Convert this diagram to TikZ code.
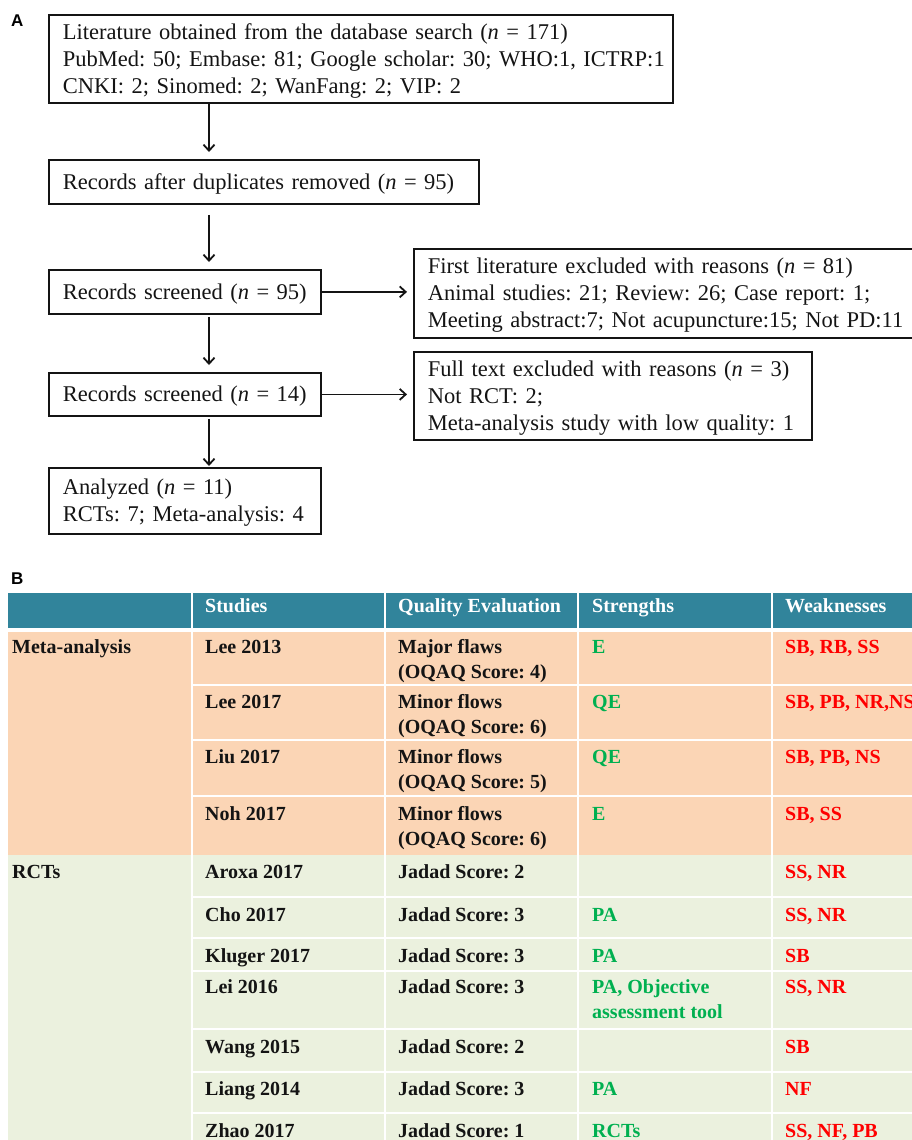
\documentclass[tikz,border=0pt]{standalone}
\usepackage{fontspec}
\setmainfont{Liberation Serif}
\newfontfamily\panelfont{Liberation Sans}
\usetikzlibrary{arrows.meta}
\definecolor{hdr}{HTML}{31849B}
\definecolor{peach}{HTML}{FBD5B5}
\definecolor{pale}{HTML}{EBF1DE}
\definecolor{goodc}{HTML}{00B050}
\definecolor{badc}{HTML}{FF0000}
\definecolor{ink}{HTML}{141414}
\frenchspacing
\newcommand\fs{\rule[-6pt]{0pt}{27pt}}
\newcommand\flowsetup{\fontsize{22.5}{27}\selectfont\frenchspacing\spaceskip=5pt plus 2pt minus 1pt\relax}
\newcommand\twoline[2]{\begin{tabular}[t]{@{}l@{}}#1\\#2\end{tabular}}
\begin{document}
\begin{tikzpicture}[x=1pt,y=-1pt,
  fbox/.style={draw=ink, line width=1.8pt, anchor=north west, inner xsep=14pt, inner ysep=0pt,
    align=left, font=\flowsetup, text=ink},
  arr/.style={draw=ink, line width=1.8pt, -{Straight Barb[length=6pt,width=11pt]}},
  tc/.style={anchor=base west, inner sep=0pt, font=\fontsize{20}{25}\selectfont\bfseries, text=ink},
  hd/.style={tc, text=white},
  good/.style={tc, text=goodc},
  bad/.style={tc, text=badc},
  panel/.style={anchor=base west, inner sep=0pt, font=\panelfont\fontsize{17}{19}\selectfont\bfseries}]
\useasboundingbox (0,0) rectangle (912,1140);
\clip (0,0) rectangle (912,1140);
\fill[white] (0,0) rectangle (912,1140);

% ---------- Panel A ----------
\node[panel] (pa) at (11,27) {A};
\node[fbox, text width=596pt, minimum height=88pt] (lit) at (48,14)
  {\fs\mbox{Literature obtained from the database search (\textit{n} = 171)}\\
   \fs\mbox{PubMed: 50; Embase: 81; Google scholar: 30; WHO:1, ICTRP:1}\\
   \fs\mbox{CNKI: 2; Sinomed: 2; WanFang: 2; VIP: 2}};
\node[fbox, text width=402pt, minimum height=44pt] (dup) at (48,159)
  {\fs\mbox{Records after duplicates removed (\textit{n} = 95)}};
\node[fbox, text width=244pt, minimum height=44pt] (scr1) at (48,269)
  {\fs\mbox{Records screened (\textit{n} = 95)}};
\node[fbox, text width=244pt, minimum height=43pt] (scr2) at (48,372)
  {\fs\mbox{Records screened (\textit{n} = 14)}};
\node[fbox, text width=244pt, minimum height=66pt] (ana) at (48,467)
  {\fs\mbox{Analyzed (\textit{n} = 11)}\\
   \fs\mbox{RCTs: 7; Meta-analysis: 4}};
\node[fbox, text width=476pt, minimum height=89pt] (ex1) at (413,248)
  {\fs\mbox{First literature excluded with reasons (\textit{n} = 81)}\\
   \fs\mbox{Animal studies: 21; Review: 26; Case report: 1;}\\
   \fs\mbox{Meeting abstract:7; Not acupuncture:15; Not PD:11}};
\node[fbox, text width=370pt, minimum height=88pt] (ex2) at (413,351)
  {\fs\mbox{Full text excluded with reasons (\textit{n} = 3)}\\
   \fs\mbox{Not RCT: 2;}\\
   \fs\mbox{Meta-analysis study with low quality: 1}};

\coordinate (ax) at (209,0);
\draw[arr, shorten >=7pt] (lit.south -| ax) -- (dup.north -| ax);
\draw[arr, shorten <=10pt, shorten >=7pt] (dup.south -| ax) -- (scr1.north -| ax);
\draw[arr, shorten <=2pt, shorten >=7pt] (scr1.south -| ax) -- (scr2.north -| ax);
\draw[arr, shorten <=2pt, shorten >=1pt] (scr2.south -| ax) -- (ana.north -| ax);
\draw[arr, shorten >=6pt] (scr1.east) -- (scr1.east -| ex1.west);
\draw[arr, shorten >=6pt] (scr2.east) -- (scr2.east -| ex2.west);

% ---------- Panel B ----------
\node[panel] (pb) at (11,584) {B};
\fill[hdr] (8,593) rectangle (912,628);
\fill[peach] (8,632) rectangle (912,855);
\fill[pale] (8,855) rectangle (912,1140);
\foreach \x in {192,385,578,772} \draw[white, line width=2.5pt] (\x,593) -- (\x,1140);
\foreach \y in {685,740,796,897,938,971,1029,1072,1113} \draw[white, line width=2pt] (192,\y) -- (912,\y);

\node[hd] (h2) at (205,612) {Studies};
\node[hd] (h3) at (398,612) {Quality Evaluation};
\node[hd] (h4) at (592,612) {Strengths};
\node[hd] (h5) at (785,612) {Weaknesses};

\node[tc] (gm) at (12,653) {Meta-analysis};
\node[tc] (gr) at (12,878) {RCTs};

\node[tc] (s1) at (205,653) {Lee 2013};
\node[tc] (q1) at (398,653) {\twoline{Major flaws}{(OQAQ Score: 4)}};
\node[good] (p1) at (592,653) {E};
\node[bad] (w1) at (785,653) {SB, RB, SS};

\node[tc] (s2) at (205,708) {Lee 2017};
\node[tc] (q2) at (398,708) {\twoline{Minor flows}{(OQAQ Score: 6)}};
\node[good] (p2) at (592,708) {QE};
\node[bad] (w2) at (785,708) {SB, PB, NR,NS};

\node[tc] (s3) at (205,763) {Liu 2017};
\node[tc] (q3) at (398,763) {\twoline{Minor flows}{(OQAQ Score: 5)}};
\node[good] (p3) at (592,763) {QE};
\node[bad] (w3) at (785,763) {SB, PB, NS};

\node[tc] (s4) at (205,820) {Noh 2017};
\node[tc] (q4) at (398,820) {\twoline{Minor flows}{(OQAQ Score: 6)}};
\node[good] (p4) at (592,820) {E};
\node[bad] (w4) at (785,820) {SB, SS};

\node[tc] (s5) at (205,878) {Aroxa 2017};
\node[tc] (q5) at (398,878) {Jadad Score: 2};
\node[bad] (w5) at (785,878) {SS, NR};

\node[tc] (s6) at (205,921) {Cho 2017};
\node[tc] (q6) at (398,921) {Jadad Score: 3};
\node[good] (p6) at (592,921) {PA};
\node[bad] (w6) at (785,921) {SS, NR};

\node[tc] (s7) at (205,962) {Kluger 2017};
\node[tc] (q7) at (398,962) {Jadad Score: 3};
\node[good] (p7) at (592,962) {PA};
\node[bad] (w7) at (785,962) {SB};

\node[tc] (s8) at (205,993) {Lei 2016};
\node[tc] (q8) at (398,993) {Jadad Score: 3};
\node[good] (p8) at (592,993) {\twoline{PA, Objective}{assessment tool}};
\node[bad] (w8) at (785,993) {SS, NR};

\node[tc] (s9) at (205,1053) {Wang 2015};
\node[tc] (q9) at (398,1053) {Jadad Score: 2};
\node[bad] (w9) at (785,1053) {SB};

\node[tc] (s10) at (205,1095) {Liang 2014};
\node[tc] (q10) at (398,1095) {Jadad Score: 3};
\node[good] (p10) at (592,1095) {PA};
\node[bad] (w10) at (785,1095) {NF};

\node[tc] (s11) at (205,1137) {Zhao 2017};
\node[tc] (q11) at (398,1137) {Jadad Score: 1};
\node[good] (p11) at (592,1137) {RCTs};
\node[bad] (w11) at (785,1137) {SS, NF, PB};
\end{tikzpicture}
\end{document}
